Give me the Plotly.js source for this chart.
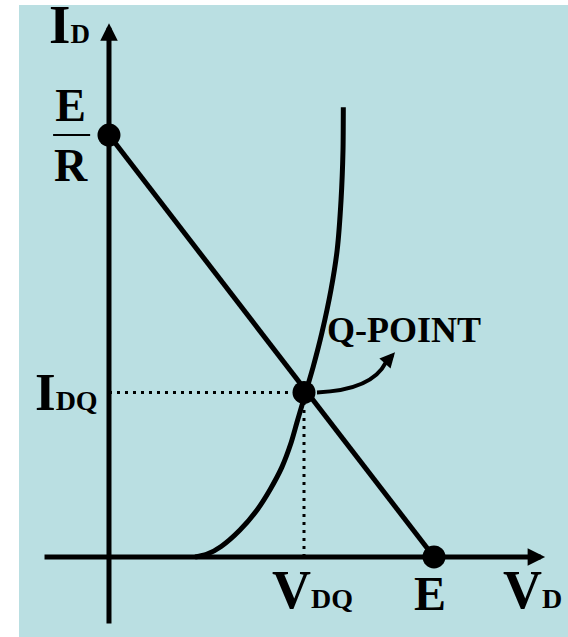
<!DOCTYPE html>
<html>
<head>
<meta charset="utf-8">
<script src="https://cdn.plot.ly/plotly-3.0.1.min.js"></script>
<style>
  body { margin: 0; background: #ffffff; }
  #chart { width: 568px; height: 637px; }
</style>
</head>
<body>
<div id="chart"></div>
<script>
// supply voltage and resistor (E/R is where the load line meets the I axis)
var E = 10;
var R = 1;

// load line end points
var loadV = [0, E];
var loadI = [E / R, 0];

// diode forward characteristic
var diodeV = [2.65, 3.00, 3.45, 4.03, 4.55, 4.95, 5.32, 5.60, 5.78, 6.03, 6.28, 6.55, 6.83, 7.02, 7.14, 7.20, 7.21];
var diodeI = [0, 0.06, 0.25, 0.64, 1.11, 1.59, 2.13, 2.70, 3.18, 3.84, 4.50, 5.31, 6.33, 7.27, 8.46, 9.64, 10.66];

// operating point
var vdq = 6.0;
var idq = 3.9;

// the three big dots: E/R, Q, E
var dotV = [0, vdq, E];
var dotI = [E / R, idq, 0];

// how far the drawn axes reach
var axisV = [-2.03, 13.42];
var axisI = [-1.61, 12.65];

var serif = "Liberation Serif, Times New Roman, serif";

var traces = [
  // dotted projections of Q onto the axes
  {x: [0, vdq], y: [idq, idq], mode: "lines",
   line: {color: "black", width: 3, dash: "3px,5px"}},
  {x: [vdq, vdq], y: [0, idq], mode: "lines",
   line: {color: "black", width: 3, dash: "3px,5px"}},
  // load line
  {x: loadV, y: loadI, mode: "lines", line: {color: "black", width: 5}},
  // diode curve
  {x: diodeV, y: diodeI, mode: "lines",
   line: {color: "black", width: 5, shape: "spline", smoothing: 0.7}},
  // dots
  {x: dotV, y: dotI, mode: "markers", marker: {color: "black", size: 23}}
];

function label(x, y, text, size, xanchor, xshift, yshift) {
  return {x: x, y: y, xref: "x", yref: "y", text: text, showarrow: false,
    xanchor: xanchor, yanchor: "middle", xshift: xshift, yshift: yshift,
    font: {family: serif, size: size, color: "black", weight: "bold"}};
}

var annotations = [
  // axes with arrow heads
  {x: 0, y: axisI[1], ax: 0, ay: axisI[0], axref: "x", ayref: "y",
   xref: "x", yref: "y", text: "", showarrow: true, arrowhead: 2,
   arrowsize: 0.7, arrowwidth: 5, arrowcolor: "black", standoff: 0},
  {x: axisV[1], y: 0, ax: axisV[0], ay: 0, axref: "x", ayref: "y",
   xref: "x", yref: "y", text: "", showarrow: true, arrowhead: 2,
   arrowsize: 0.7, arrowwidth: 5, arrowcolor: "black", standoff: 0},
  // head of the Q-POINT pointer
  {x: vdq + 2.80, y: idq + 0.95, ax: -9, ay: 10, xref: "x", yref: "y",
   text: "", showarrow: true, arrowhead: 2, arrowsize: 0.75, arrowwidth: 4,
   arrowcolor: "black", standoff: 0},
  // labels
  label(0, axisI[1], "I<span style='font-size:27px'>D</span>", 55, "right", -17, -1),
  label(0, E / R, "E<br>R", 46, "center", -38, 0),
  label(0, idq, "I<span style='font-size:28px'>DQ</span>", 53, "right", -9, 0),
  label(vdq, 0, "V<span style='font-size:28px'>DQ</span>", 54, "center", 8, -33),
  label(E, 0, "E", 48, "center", -4, -37),
  label(axisV[1], 0, "V<span style='font-size:28px'>D</span>", 54, "center", -13, -33),
  label(vdq, idq, "Q-POINT", 36, "center", 100, 62)
];

var shapes = [
  // fraction bar of E/R
  {type: "line", xref: "x", yref: "y", x0: -1.72, x1: -0.58, y0: E / R, y1: E / R,
   line: {color: "black", width: 2}},
  // curved pointer from Q to its label
  {type: "path", xref: "x", yref: "y",
   path: "M " + (vdq + 0.4) + "," + idq +
         " Q " + (vdq + 2.09) + "," + (idq + 0.05) +
         " " + (vdq + 2.52) + "," + (idq + 0.71),
   line: {color: "black", width: 4}}
];

var layout = {
  width: 568,
  height: 637,
  margin: {l: 19, r: 0, t: 5, b: 0},
  paper_bgcolor: "#ffffff",
  plot_bgcolor: "#badfe2",
  showlegend: false,
  xaxis: {range: [-2.769, 14.123], visible: false, fixedrange: true},
  yaxis: {range: [-1.896, 13.081], visible: false, fixedrange: true},
  annotations: annotations,
  shapes: shapes
};

Plotly.newPlot("chart", traces, layout, {staticPlot: true, displayModeBar: false});
</script>
</body>
</html>
